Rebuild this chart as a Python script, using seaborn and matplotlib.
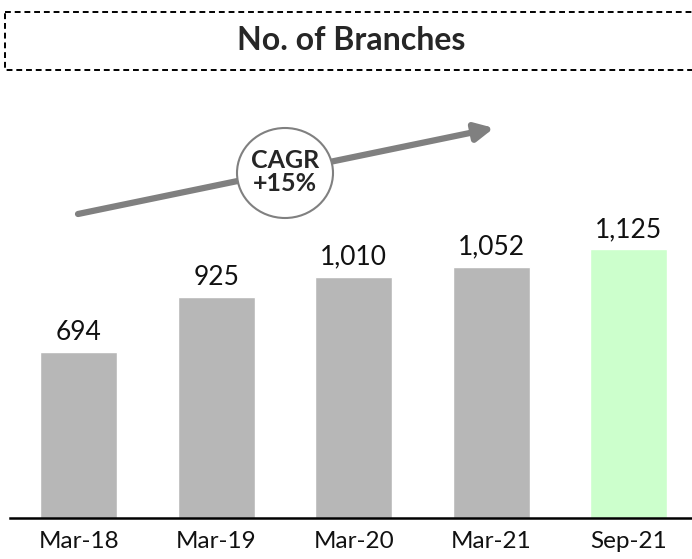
import numpy as np
import matplotlib.pyplot as plt
import seaborn as sns
from matplotlib.patches import Rectangle, Ellipse

periods = ['Mar-18', 'Mar-19', 'Mar-20', 'Mar-21', 'Sep-21']
branches = [694, 925, 1010, 1052, 1125]
bar_colors = ['#b7b7b7', '#b7b7b7', '#b7b7b7', '#b7b7b7', '#ccffcc']
title = 'No. of Branches'
cagr_text = 'CAGR\n+15%'

sns.set_theme(style="white")
plt.rcParams['font.family'] = ['Lato', 'DejaVu Sans']

W, H = 692, 559
fig = plt.figure(figsize=(W / 100, H / 100), dpi=100)

# main bar axes, positioned in pixels
left, right, top, bottom = 10, 692, 100, 518
ax = fig.add_axes([left / W, 1 - bottom / H, (right - left) / W, (bottom - top) / H])
sns.barplot(x=periods, y=branches, hue=periods, palette=bar_colors, legend=False,
            width=0.56, saturation=1, ax=ax)
for c in ax.containers:
    ax.bar_label(c, fmt='{:,.0f}', padding=5, fontsize=19, color='#111111')
ax.set_xlim(-0.5, 4.46)
ax.set_ylim(0, 1749)
ax.set_yticks([])
ax.set_ylabel('')
ax.set_xlabel('')
for s in ['top', 'right', 'left']:
    ax.spines[s].set_visible(False)
ax.spines['bottom'].set_color('black')
ax.spines['bottom'].set_linewidth(1.8)
ax.tick_params(axis='x', labelsize=17.5, colors='#111111', length=0, pad=9)

# overlay for decorations in pixel coordinates
ov = fig.add_axes([0, 0, 1, 1], facecolor='none')
ov.set_xlim(0, W)
ov.set_ylim(H, 0)
ov.axis('off')

ov.add_patch(Rectangle((5, 12), 700, 58, fill=False, edgecolor='black',
                       linestyle=(0, (3, 2)), linewidth=1.4))
ov.text(351, 41, title, ha='center', va='center', fontsize=23, fontweight='bold')

ov.annotate('', xy=(494, 128), xytext=(78, 214),
            arrowprops=dict(arrowstyle='-|>,head_length=0.9,head_width=0.45',
                            color='#808080', lw=4.5, shrinkA=0, shrinkB=0),
            zorder=2)
ov.add_patch(Ellipse((285, 173), 96, 90, facecolor='white', edgecolor='#808080',
                     linewidth=1.5, zorder=3))
ov.text(285, 172, cagr_text, ha='center', va='center', fontsize=18, fontweight='bold',
        linespacing=1.05, zorder=4)

plt.savefig('out.png', dpi=100)
